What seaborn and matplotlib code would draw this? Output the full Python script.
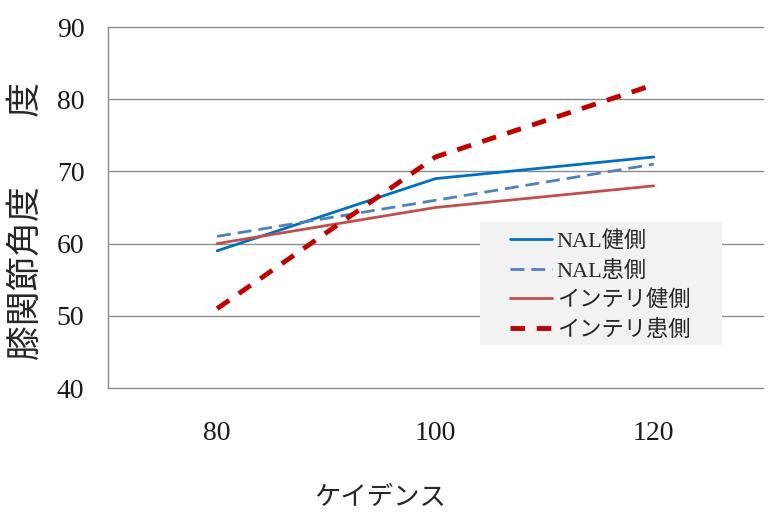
import matplotlib
matplotlib.use("Agg")
import matplotlib.pyplot as plt
import seaborn as sns
import pandas as pd
from matplotlib.lines import Line2D
from matplotlib.patches import Rectangle

sns.set_style("white")
plt.rcParams["font.family"] = ["Liberation Serif", "Noto Sans CJK JP"]

# Cadence categories and knee joint angle per condition
cadence = ["80", "100", "120"]
nal_healthy = [59, 69, 72]
nal_affected = [61, 66, 71]
intelli_healthy = [60, 65, 68]
intelli_affected = [51, 72, 82]

series_names = ["NAL健側", "NAL患側", "インテリ健側", "インテリ患側"]
series_values = [nal_healthy, nal_affected, intelli_healthy, intelli_affected]
colors = ["#0070C0", "#4F81BD", "#C0504D", "#C00000"]
widths = [2.0, 2.0, 2.0, 3.5]
dash_styles = [None, (5, 2.5), None, (3, 2.4)]

W, H = 773, 518
fig = plt.figure(figsize=(W / 100, H / 100), dpi=100)
ax = fig.add_axes([108 / W, (H - 388) / H, 655 / W, 361 / H])

x_pos = list(range(len(cadence)))
for name, vals, c, lw, d in zip(series_names, series_values, colors, widths, dash_styles):
    df = pd.DataFrame({"x": x_pos, "y": vals})
    kw = {}
    if d is not None:
        kw["dashes"] = d
    sns.lineplot(data=df, x="x", y="y", ax=ax, color=c, linewidth=lw,
                 label=name, legend=False, zorder=3, **kw)

ax.set_xlim(-0.5, 2.5)
ax.set_ylim(40, 90)
ax.set_yticks(range(40, 91, 10))
ax.set_xticks(x_pos)
ax.set_xticklabels(cadence)
ax.grid(False)
for yv in range(40, 91, 10):
    ax.axhline(yv, color="#8C8C8C", linewidth=1.0, zorder=1, clip_on=False)
for s in ["top", "right", "bottom"]:
    ax.spines[s].set_visible(False)
ax.spines["left"].set_color("#8C8C8C")
ax.spines["left"].set_linewidth(1.0)
ax.tick_params(axis="both", length=0, labelsize=20, colors="#1A1A1A")
ax.tick_params(axis="y", pad=17)
ax.tick_params(axis="x", pad=24)
ax.set_xlabel("")
ax.set_ylabel("")

fig.text(380 / W, 1 - 497 / H, "ケイデンス", ha="center", va="center",
         fontsize=19, family=["Noto Sans CJK JP"])
fig.text(26 / W, 1 - 221 / H, "膝関節角度\u3000\u3000度", ha="center", va="center",
         rotation=90, fontsize=25, family=["Noto Sans CJK JP"])

# Legend background panel
fig.patches.append(Rectangle((480 / W, 1 - 345 / H), 242 / W, 123 / H,
                             transform=fig.transFigure, facecolor="#F2F2F2",
                             edgecolor="none", zorder=4))

handles = []
for name, c, lw, d in zip(series_names, colors, widths, dash_styles):
    h = Line2D([0], [0], color=c, linewidth=lw, label=name)
    if d is not None:
        h.set_dashes(d)
    handles.append(h)
leg = fig.legend(handles=handles, loc="upper left",
                 bbox_to_anchor=(510 / W, 1 - 231 / H),
                 frameon=False, fontsize=16,
                 handlelength=1.9, handletextpad=0.2, labelspacing=0.4,
                 borderpad=0, borderaxespad=0)
leg.set_zorder(5)

fig.savefig("out.png", dpi=100)
